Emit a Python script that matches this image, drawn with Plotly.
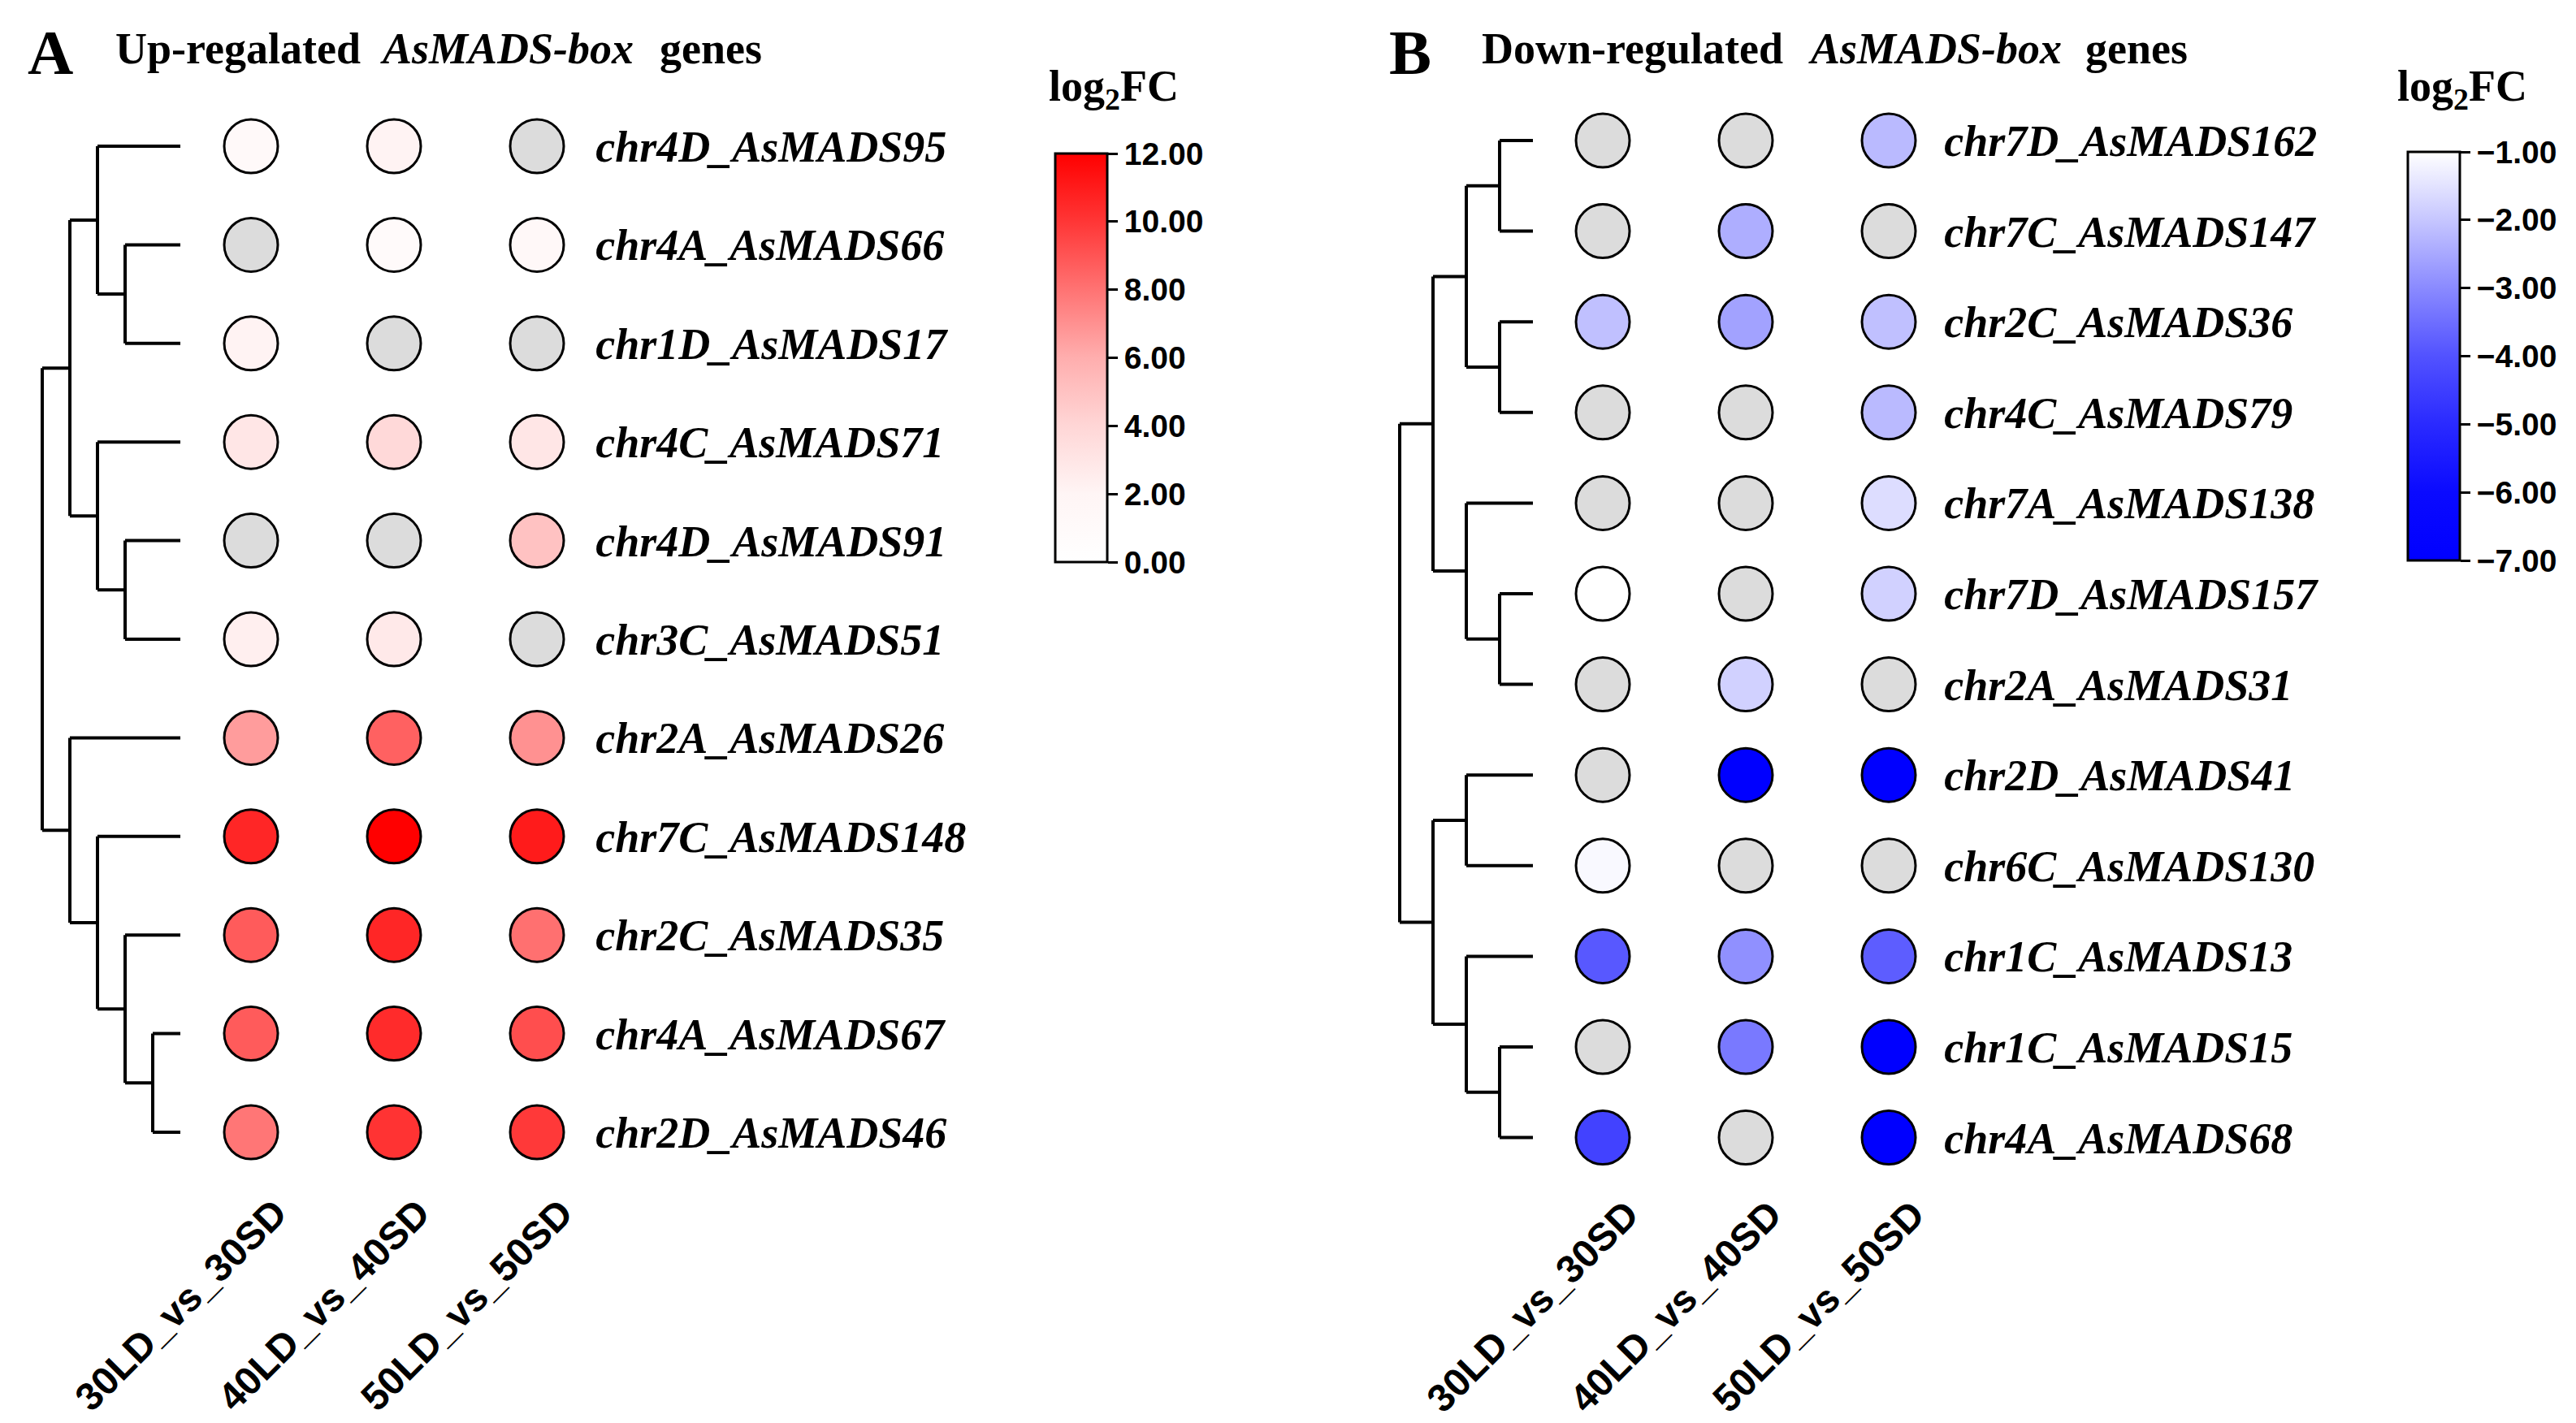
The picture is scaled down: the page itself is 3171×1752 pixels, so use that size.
import plotly.graph_objects as go

# ---------------- data ----------------
conditions = ["30LD_vs_30SD", "40LD_vs_40SD", "50LD_vs_50SD"]

genes_up = ["chr4D_AsMADS95", "chr4A_AsMADS66", "chr1D_AsMADS17", "chr4C_AsMADS71",
            "chr4D_AsMADS91", "chr3C_AsMADS51", "chr2A_AsMADS26", "chr7C_AsMADS148",
            "chr2C_AsMADS35", "chr4A_AsMADS67", "chr2D_AsMADS46"]
fc_up_30 = [1.2, None, 2.1, 3.0, None, 2.4, 6.6, 10.6, 8.8, 8.8, 7.9]
fc_up_40 = [2.1, 1.0, None, 3.8, None, 2.8, 8.6, 12.0, 10.6, 10.4, 10.1]
fc_up_50 = [None, 1.5, None, 3.0, 5.0, None, 7.0, 11.0, 8.1, 9.2, 9.9]
tree_up = (((0, (1, 2)), (3, (4, 5))), (6, (7, (8, (9, 10)))))
up_ticks = [0, 2, 4, 6, 8, 10, 12]

genes_down = ["chr7D_AsMADS162", "chr7C_AsMADS147", "chr2C_AsMADS36", "chr4C_AsMADS79",
              "chr7A_AsMADS138", "chr7D_AsMADS157", "chr2A_AsMADS31", "chr2D_AsMADS41",
              "chr6C_AsMADS130", "chr1C_AsMADS13", "chr1C_AsMADS15", "chr4A_AsMADS68"]
fc_down_30 = [None, None, -2.1, None, None, -1.0, None, None, -1.1, -3.9, None, -4.4]
fc_down_40 = [None, -2.4, -2.6, None, None, None, -1.8, -7.0, None, -2.9, -3.3, None]
fc_down_50 = [-2.2, None, -2.1, -2.2, -1.6, -1.8, None, -7.0, None, -3.8, -7.0, -7.0]
tree_down = ((((0, 1), (2, 3)), (4, (5, 6))), ((7, 8), (9, (10, 11))))
down_ticks = [-7, -6, -5, -4, -3, -2, -1]

# ---------------- styles ----------------
W, H = 3171, 1752
NA_COLOR = "#DCDCDC"
RED_SCALE = [[0, "#FFFFFF"], [1 / 6, "#FFF5F5"], [2 / 6, "#FFD6D6"], [0.5, "#FFAEAE"],
             [4 / 6, "#FF7373"], [5 / 6, "#FF3636"], [1, "#FF0000"]]
BLUE_SCALE = [[0, "#0000FF"], [1 / 6, "#0A0AFF"], [2 / 6, "#2A2AFF"], [0.5, "#5252FF"],
              [4 / 6, "#8A8AFF"], [5 / 6, "#C6C6FF"], [1, "#FFFFFF"]]
SERIF = "Liberation Serif, Times New Roman, serif"
SANS = "Liberation Sans, Arial, sans-serif"
MSIZE = 66


def px_x(p):
    return p / W


def px_y(p):
    return 1 - p / H


def dendro_segments(tree):
    xs, ys = [], []

    def max_depth(node, d=0):
        if isinstance(node, int):
            return d - 1
        return max(max_depth(c, d + 1) for c in node)

    leaf_level = max_depth(tree) + 1

    def walk(node, depth):
        if isinstance(node, int):
            return float(node), leaf_level
        cys = []
        for child in node:
            cy, cx = walk(child, depth + 1)
            xs.extend([depth, cx, None])
            ys.extend([cy, cy, None])
            cys.append(cy)
        xs.extend([depth, depth, None])
        ys.extend([min(cys), max(cys), None])
        return (min(cys) + max(cys)) / 2, depth

    walk(tree, 0)
    return xs, ys, leaf_level


fig = go.Figure()


def add_panel(genes, series, tree, xa, ya, xd, scale, cmin, cmax, ticks, cb_left_px, cb_top_px, cb_bot_px):
    xo, yo, vo, xn, yn = [], [], [], [], []
    for j, vals in enumerate(series):
        for i, v in enumerate(vals):
            if v is None:
                xn.append(j)
                yn.append(i)
            else:
                xo.append(j)
                yo.append(i)
                vo.append(v)
    fig.add_trace(go.Scatter(
        x=xn, y=yn, mode="markers", xaxis=xa, yaxis=ya, cliponaxis=False,
        marker=dict(size=MSIZE, color=NA_COLOR, line=dict(color="black", width=3)),
        showlegend=False, hoverinfo="skip"))
    fig.add_trace(go.Scatter(
        x=xo, y=yo, mode="markers", xaxis=xa, yaxis=ya, cliponaxis=False,
        marker=dict(size=MSIZE, color=vo, colorscale=scale, cmin=cmin, cmax=cmax,
                    line=dict(color="black", width=3), showscale=True,
                    colorbar=dict(
                        x=px_x(cb_left_px), xanchor="left", xpad=0,
                        y=px_y(cb_top_px), yanchor="top", ypad=0,
                        len=(cb_bot_px - cb_top_px) / H, lenmode="fraction",
                        thickness=64, thicknessmode="pixels",
                        outlinewidth=3, outlinecolor="black", borderwidth=0,
                        ticks="outside", ticklen=12, tickwidth=3, tickcolor="black",
                        tickvals=ticks, tickformat=".2f",
                        tickfont=dict(family=SANS, size=39, color="black", weight="bold"))),
        showlegend=False, hoverinfo="skip"))
    dx, dy, leaf = dendro_segments(tree)
    fig.add_trace(go.Scatter(
        x=dx, y=dy, mode="lines", xaxis=xd, yaxis=ya,
        line=dict(color="black", width=4), showlegend=False, hoverinfo="skip"))
    return leaf


leafA = add_panel(genes_up, [fc_up_30, fc_up_40, fc_up_50], tree_up, "x", "y", "x3",
                  RED_SCALE, min(up_ticks), max(up_ticks), up_ticks, 1299, 189, 692)
leafB = add_panel(genes_down, [fc_down_30, fc_down_40, fc_down_50], tree_down, "x2", "y2", "x4",
                  BLUE_SCALE, min(down_ticks), max(down_ticks), down_ticks, 2964, 187, 690)

# layout geometry (pixels)
colA0, colStep = 309, 176
rowA0, rowAStep = 180, 121.4
colB0 = 1973
rowB0, rowBStep = 173, 111.6
xr = [-0.35, 2.2]
dA0, dAStep = 52, 34
dB0, dBStep = 1723, 41
pad = 0.3

xtick_font = dict(family=SANS, size=48, color="black", weight="bold")
gene_font = dict(family=SERIF, size=54, color="black", weight="bold", style="italic")

common_x = dict(range=xr, tickvals=[0, 1, 2], ticktext=conditions, tickangle=-45,
                tickfont=xtick_font, showgrid=False, zeroline=False, showline=False,
                ticks="", ticklabelshift=30, fixedrange=True)

fig.update_layout(
    width=W, height=H, margin=dict(l=0, r=0, t=0, b=0, pad=0, autoexpand=False),
    paper_bgcolor="white", plot_bgcolor="rgba(0,0,0,0)", showlegend=False,
    xaxis=dict(domain=[px_x(colA0 + xr[0] * colStep), px_x(colA0 + xr[1] * colStep)],
               anchor="y", **common_x),
    yaxis=dict(domain=[px_y(rowA0 + (len(genes_up) - 0.5) * rowAStep), px_y(rowA0 - 0.5 * rowAStep)],
               range=[len(genes_up) - 0.5, -0.5], tickvals=list(range(len(genes_up))),
               ticktext=genes_up, side="right", anchor="x", tickfont=gene_font,
               ticklabelstandoff=36, showgrid=False, zeroline=False, showline=False, ticks=""),
    xaxis2=dict(domain=[px_x(colB0 + xr[0] * colStep), px_x(colB0 + xr[1] * colStep)],
                anchor="y2", **common_x),
    yaxis2=dict(domain=[px_y(rowB0 + (len(genes_down) - 0.5) * rowBStep), px_y(rowB0 - 0.5 * rowBStep)],
                range=[len(genes_down) - 0.5, -0.5], tickvals=list(range(len(genes_down))),
                ticktext=genes_down, side="right", anchor="x2", tickfont=gene_font,
                ticklabelstandoff=32, showgrid=False, zeroline=False, showline=False, ticks=""),
    xaxis3=dict(domain=[px_x(dA0 - pad * dAStep), px_x(dA0 + (leafA + pad) * dAStep)],
                range=[-pad, leafA + pad], visible=False, anchor="y"),
    xaxis4=dict(domain=[px_x(dB0 - pad * dBStep), px_x(dB0 + (leafB + pad) * dBStep)],
                range=[-pad, leafB + pad], visible=False, anchor="y2"),
)

# titles
title_font = dict(family=SERIF, size=54, color="black", weight="bold")
letter_font = dict(family=SERIF, size=78, color="black", weight="bold")
cb_title_font = dict(family=SERIF, size=54, color="black", weight="bold")
ann = [
    ("A", 33, 64, letter_font, "normal"),
    ("Up-regalated", 141, 60, title_font, "normal"),
    ("AsMADS-box", 467, 60, title_font, "italic"),
    ("genes", 811, 60, title_font, "normal"),
    ("B", 1709, 64, letter_font, "normal"),
    ("Down-regulated", 1823, 60, title_font, "normal"),
    ("AsMADS-box", 2225, 60, title_font, "italic"),
    ("genes", 2566, 60, title_font, "normal"),
    ("log<sub>2</sub>FC", 1290, 110, cb_title_font, "normal"),
    ("log<sub>2</sub>FC", 2950, 110, cb_title_font, "normal"),
]
for text, xp, yp, f, st in ann:
    fig.add_annotation(text=text, x=px_x(xp), y=px_y(yp), xref="paper", yref="paper",
                       xanchor="left", yanchor="middle", showarrow=False,
                       font=dict(f, style=st), borderpad=0)

fig.write_html("out.html", config={"displayModeBar": False},
               post_script="document.body.style.margin='0';")
